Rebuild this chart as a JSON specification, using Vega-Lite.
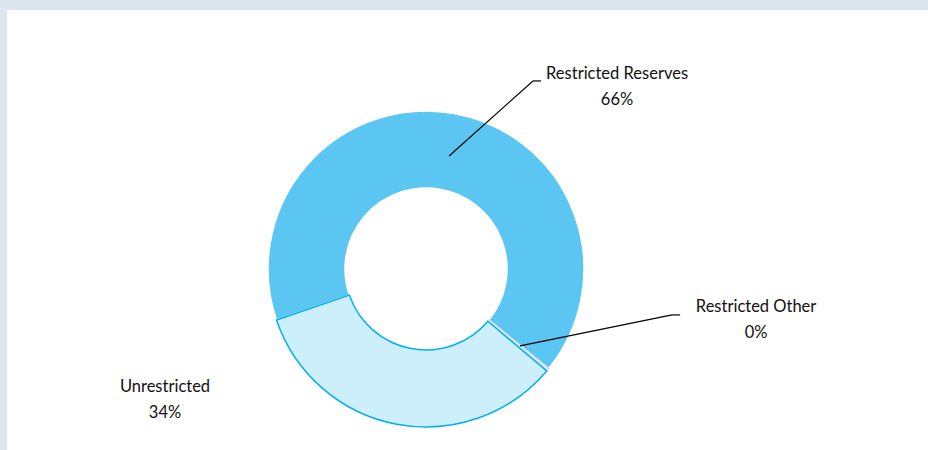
{
  "$schema": "https://vega.github.io/schema/vega-lite/v6.json",
  "width": 921,
  "height": 440,
  "autosize": {"type": "none"},
  "padding": {"left": 7, "top": 10, "right": 0, "bottom": 0},
  "background": "#dce6f1",
  "config": {"view": {"fill": "white", "stroke": null}},
  "layer": [
    {
      "data": {"values": [
        {"category": "Restricted Reserves", "value": 66.1},
        {"category": "Restricted Other", "value": 0.3},
        {"category": "Unrestricted", "value": 33.6}
      ]},
      "mark": {"type": "arc", "radius": 158, "radius2": 81, "strokeWidth": 1.5},
      "encoding": {
        "theta": {"field": "value", "type": "quantitative", "stack": true, "scale": {"range": [2.2724, 8.5556]}},
        "order": {"field": "category", "sort": "descending"},
        "color": {"field": "category", "type": "nominal", "legend": null,
          "scale": {"domain": ["Restricted Reserves", "Restricted Other", "Unrestricted"], "range": ["#5cc6f2", "#e6e6e6", "#cdeefb"]}},
        "stroke": {"field": "category", "type": "nominal", "legend": null,
          "scale": {"domain": ["Restricted Reserves", "Restricted Other", "Unrestricted"], "range": ["#ffffff", "#e0e0e0", "#00b0f0"]}},
        "x": {"datum": 0, "type": "quantitative", "axis": null, "scale": {"domain": [-265.2, 317.7], "nice": false, "zero": false}},
        "y": {"datum": 0, "type": "quantitative", "axis": null, "scale": {"domain": [-114.6, 163.9], "nice": false, "zero": false}}
      }
    },
    {
      "data": {"values": [
        {"x1": 14.6, "y1": 71.5, "x2": 67.7, "y2": 119.0},
        {"x1": 67.7, "y1": 119.0, "x2": 72.8, "y2": 119.0},
        {"x1": 59.5, "y1": -48.7, "x2": 155.7, "y2": -29.1},
        {"x1": 155.7, "y1": -29.1, "x2": 160.8, "y2": -29.1}
      ]},
      "mark": {"type": "rule", "color": "#000000", "strokeWidth": 1.2},
      "encoding": {
        "x": {"field": "x1", "type": "quantitative", "axis": null, "scale": {"domain": [-265.2, 317.7], "nice": false, "zero": false}},
        "y": {"field": "y1", "type": "quantitative", "axis": null, "scale": {"domain": [-114.6, 163.9], "nice": false, "zero": false}},
        "x2": {"field": "x2"},
        "y2": {"field": "y2"}
      }
    },
    {
      "data": {"values": [
        {"label": "Restricted Reserves\n66%", "lx": 120.9, "ly": 120.5},
        {"label": "Restricted Other\n0%", "lx": 208.9, "ly": -27.2},
        {"label": "Unrestricted\n34%", "lx": -165.2, "ly": -77.8}
      ]},
      "mark": {"type": "text", "align": "center", "baseline": "alphabetic", "lineBreak": "\n", "lineHeight": 26, "font": "Lato", "fontSize": 16.5, "color": "#111111"},
      "encoding": {
        "text": {"field": "label"},
        "x": {"field": "lx", "type": "quantitative", "axis": null, "scale": {"domain": [-265.2, 317.7], "nice": false, "zero": false}},
        "y": {"field": "ly", "type": "quantitative", "axis": null, "scale": {"domain": [-114.6, 163.9], "nice": false, "zero": false}}
      }
    }
  ]
}
